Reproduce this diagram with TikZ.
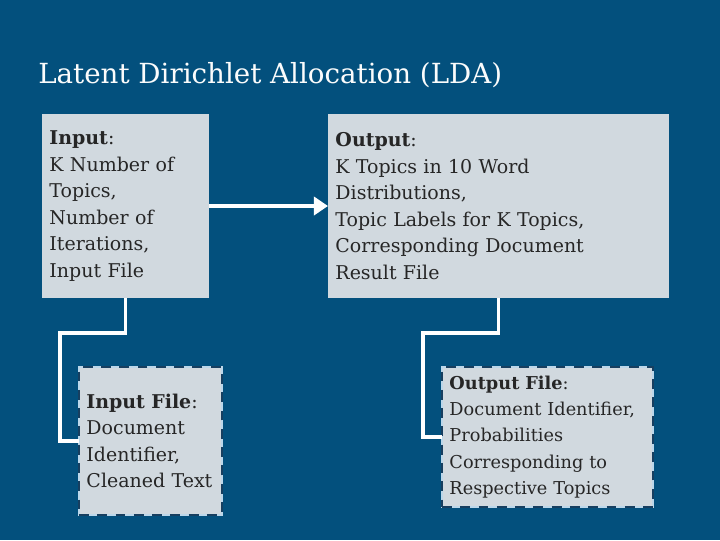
\documentclass[tikz,border=0pt]{standalone}
\usepackage{fontspec}
\setmainfont{DejaVu Serif}
\usepackage{xcolor}
\definecolor{Deep Sea}{HTML}{03507D}
\definecolor{Mist}{HTML}{D1D9DF}
\definecolor{Ice}{HTML}{BCD7EA}
\definecolor{Navy}{HTML}{173F60}
\colorlet{cBack}{Deep Sea}
\colorlet{cBox}{Mist}
\colorlet{cEdge}{Ice}
\colorlet{cDash}{Navy}
\usepackage{tikz}
\usetikzlibrary{calc, positioning, arrows.meta}
\tikzset{
	line width = .75pt,
	font = \fontsize{13.5}{18.8}\selectfont,
	box/.style={
		fill=cBox,
		text=black!85,
		align=left,
		inner sep=0pt,
		outer sep=0pt
	},
	file box/.style={
		box,
		draw=cEdge,
		line width=2pt,
		postaction={draw=cDash, line width=2pt, dash pattern=on 7pt off 6pt}
	},
	link/.style={
		draw=white,
		line width=2.2pt
	},
	flow/.style={
		link,
		-{Triangle[length=10pt, width=13pt]}
	}
}

\begin{document}
\begin{tikzpicture}[x=0.025cm, y=-0.025cm]
% ---
% background and title
% ---
\fill[cBack] (0,0) rectangle (720,540);
\useasboundingbox (0,0) rectangle (720,540);
\node[anchor=west, inner sep=0pt, text=white!92!cBox, font=\fontsize{19.7}{23}\selectfont] (title) at (38,75) {Latent Dirichlet Allocation (LDA)};

% ---
% input and output
% ---
\node[box, minimum width=4.175cm, minimum height=4.6cm, text width=3.8cm] (in) at (125.5,206) {\textbf{Input}:\\K Number of\\Topics,\\Number of\\Iterations,\\Input File};
\node[box, minimum width=8.525cm, minimum height=4.6cm, text width=8.15cm] (out) at (498.5,206) {\textbf{Output}:\\K Topics in 10 Word\\Distributions,\\Topic Labels for K Topics,\\Corresponding Document\\Result File};

\draw[flow] (in) -- (out);

% ---
% files
% ---
\node[file box, minimum width=3.575cm, minimum height=3.7cm, text width=3.2cm] (infile) at (150.5,441) {\textbf{Input File}:\\Document\\Identifier,\\Cleaned Text};
\node[file box, minimum width=5.275cm, minimum height=3.5cm, text width=4.9cm, font=\fontsize{12.6}{18.8}\selectfont] (outfile) at (547.5,437) {\textbf{Output File}:\\\mbox{Document Identifier,}\\Probabilities\\Corresponding to\\Respective Topics};

\coordinate (k1) at (60,333);
\coordinate (k2) at (423,333);
\draw[link] (in.south) |- (k1) |- (infile.west);
\draw[link] (out.south) |- (k2) |- (outfile.west);
\end{tikzpicture}
\end{document}
